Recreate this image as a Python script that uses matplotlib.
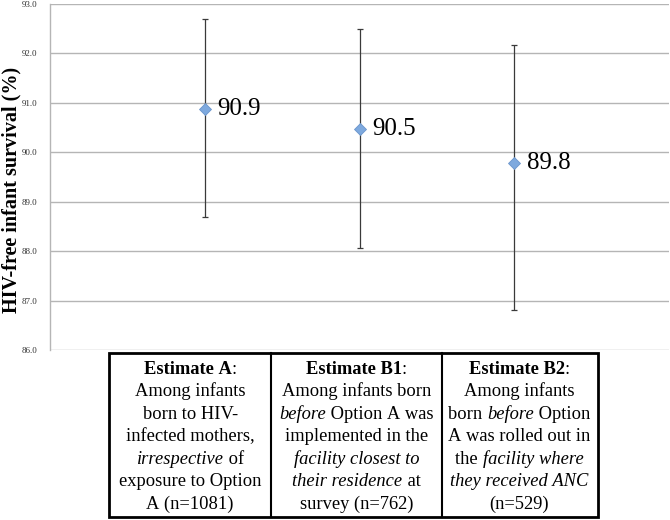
import matplotlib
matplotlib.use("Agg")
import matplotlib.pyplot as plt
from matplotlib.patches import Rectangle

# Data
estimates = ["A", "B1", "B2"]
survival = [90.87, 90.48, 89.78]
ci_low = [88.70, 88.06, 86.80]
ci_high = [92.70, 92.49, 92.17]
point_labels = ["90.9", "90.5", "89.8"]
y_ticks = [86.0, 87.0, 88.0, 89.0, 90.0, 91.0, 92.0, 93.0]

# Table text: each line is a list of (text, style) pieces; n=normal, b=bold, i=italic
desc_a = [
    [("Estimate A", "b"), (":", "n")],
    [("Among infants", "n")],
    [("born to HIV-", "n")],
    [("infected mothers,", "n")],
    [("irrespective", "i"), (" of", "n")],
    [("exposure to Option", "n")],
    [("A (n=1081)", "n")],
]
desc_b1 = [
    [("Estimate B1", "b"), (":", "n")],
    [("Among infants born", "n")],
    [("before", "i"), (" Option A was", "n")],
    [("implemented in the", "n")],
    [("facility closest to", "i")],
    [("their residence", "i"), (" at", "n")],
    [("survey (n=762)", "n")],
]
desc_b2 = [
    [("Estimate B2", "b"), (":", "n")],
    [("Among infants", "n")],
    [("born ", "n"), ("before", "i"), (" Option", "n")],
    [("A was rolled out in", "n")],
    [("the ", "n"), ("facility where", "i")],
    [("they received ANC", "i")],
    [("(n=529)", "n")],
]
descriptions = [desc_a, desc_b1, desc_b2]

SERIF = "Liberation Serif"

fig = plt.figure(figsize=(6.7, 5.2), dpi=100)
ax = fig.add_axes([50 / 670, 1 - 350 / 520, 619 / 670, 346 / 520])

x = list(range(len(estimates)))
lower = [s - lo for s, lo in zip(survival, ci_low)]
upper = [hi - s for s, hi in zip(survival, ci_high)]
ax.errorbar(x, survival, yerr=[lower, upper], fmt="none", ecolor="#3a3a3a",
            elinewidth=0.9, capsize=2.5, capthick=0.9, zorder=3)
ax.plot(x, survival, "D", color="#7ea9de", mec="#6a95cc", mew=0.6, ms=6, zorder=4)
for xi, yi, lbl in zip(x, survival, point_labels):
    ax.annotate(lbl, (xi, yi), xytext=(9, 0), textcoords="offset points",
                ha="left", va="center", fontsize=18, family=SERIF, color="black")

ax.set_xlim(-1, 3)
ax.set_ylim(86, 93)
ax.set_yticks(y_ticks)
ax.set_yticklabels([f"{v:.1f}" for v in y_ticks], family=SERIF, fontsize=6.5, color="#333333")
ax.set_xticks([])
ax.tick_params(axis="y", length=0, pad=9)
ax.grid(axis="y", color="#b5b5b5", linewidth=1)
ax.set_axisbelow(True)
for side in ["top", "right", "bottom"]:
    ax.spines[side].set_visible(False)
ax.spines["left"].set_color("#b5b5b5")
ax.spines["left"].set_linewidth(1)

fig.text(11 / 670, 1 - 190 / 520, "HIV-free infant survival (%)", family=SERIF,
         fontsize=14.5, fontweight="bold", rotation=90, ha="center", va="center")

# Table below the chart
tax = fig.add_axes([109 / 670, 3 / 520, 489 / 670, 164 / 520])
tax.set_xlim(0, 1)
tax.set_ylim(0, 1)
tax.axis("off")
tax.add_patch(Rectangle((0, 0), 1, 1, fill=False, lw=2, ec="black", clip_on=False))
for xd in [0.331, 0.681]:
    tax.plot([xd, xd], [0, 1], color="black", lw=1.5, clip_on=False)

renderer = fig.canvas.get_renderer()
ax_w = tax.get_window_extent(renderer).width
ax_h = tax.get_window_extent(renderer).height


def piece_width(s, style, size):
    t = tax.text(0, 0, s.replace(" ", "\u00a0"), fontsize=size, family=SERIF,
                 weight="bold" if style == "b" else "normal",
                 style="italic" if style == "i" else "normal")
    w = t.get_window_extent(renderer).width
    t.remove()
    return w


def rich_line(xc, y, parts, size=13.3):
    widths = []
    for s, style in parts:
        widths.append(piece_width(s, style, size))
    xpos = xc - sum(widths) / 2 / ax_w
    for (s, style), w in zip(parts, widths):
        tax.text(xpos, y, s.replace(" ", "\u00a0"), fontsize=size, family=SERIF,
                 weight="bold" if style == "b" else "normal",
                 style="italic" if style == "i" else "normal",
                 ha="left", va="baseline", transform=tax.transAxes)
        xpos += w / ax_w


centers = [0.166, 0.506, 0.839]
for xc, lines in zip(centers, descriptions):
    for k, parts in enumerate(lines):
        y_center = 0.909 - k * 0.137
        rich_line(xc, y_center - 6 / ax_h, parts)

fig.savefig("out.png", dpi=100)
